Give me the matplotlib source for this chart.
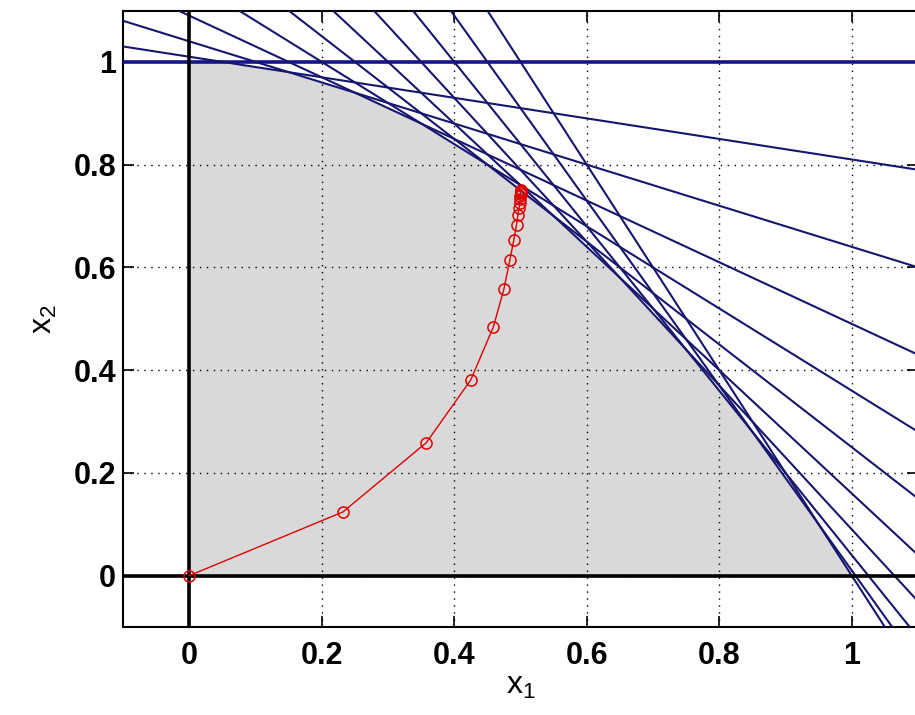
import matplotlib
matplotlib.use("Agg")
import matplotlib.pyplot as plt
from matplotlib import font_manager

# feasible region boundary (upper edge)
region_x = [0.0, 0.05, 0.1, 0.15, 0.2, 0.25, 0.3, 0.35, 0.4, 0.45, 0.5,
            0.55, 0.6, 0.65, 0.7, 0.75, 0.8, 0.85, 0.9, 0.95, 1.0]
region_y = [1.0, 0.998, 0.99, 0.978, 0.96, 0.938, 0.91, 0.878, 0.84, 0.798, 0.75,
            0.698, 0.64, 0.578, 0.51, 0.438, 0.36, 0.278, 0.19, 0.098, 0.0]

# supporting lines x2 = intercept + slope * x1
cut_slopes = [0.0, -0.2, -0.4, -0.6, -0.8, -1.0, -1.2, -1.4, -1.6, -1.8, -2.0]
cut_intercepts = [1.0, 1.01, 1.04, 1.09, 1.16, 1.25, 1.36, 1.49, 1.64, 1.81, 2.0]

# iterates
path_x1 = [0.0, 0.232, 0.358, 0.425, 0.459, 0.475, 0.484, 0.490, 0.494, 0.496,
           0.498, 0.499, 0.4995, 0.4998, 0.5, 0.5, 0.5, 0.5, 0.5]
path_x2 = [0.0, 0.124, 0.259, 0.381, 0.484, 0.558, 0.615, 0.654, 0.683, 0.702,
           0.715, 0.725, 0.733, 0.739, 0.743, 0.746, 0.748, 0.749, 0.75]

ticks = [0, 0.2, 0.4, 0.6, 0.8, 1]
tick_labels = ["0", "0.2", "0.4", "0.6", "0.8", "1"]

names = {f.name for f in font_manager.fontManager.ttflist}
fam = "Liberation Sans Narrow" if "Liberation Sans Narrow" in names else "Liberation Sans"
plt.rcParams["font.family"] = [fam, "DejaVu Sans"]
plt.rcParams["mathtext.fontset"] = "custom"
plt.rcParams["mathtext.rm"] = fam
plt.rcParams["mathtext.default"] = "rm"

fig = plt.figure(figsize=(9.15, 7.15), dpi=100)
ax = fig.add_axes([123 / 915, 1 - 627 / 715, 795 / 915, 616.5 / 715])

ax.fill_between(region_x, 0, region_y, color="#d9d9d9", lw=0, zorder=1)

for i, (m, b) in enumerate(zip(cut_slopes, cut_intercepts)):
    if i == 0:
        ax.axline((0, b), slope=m, color="#14148c", lw=2.6, zorder=3)
    else:
        ax.axline((0, b), slope=m, color="#16166e", lw=1.5, zorder=3)

ax.axhline(0, color="k", lw=2.6, zorder=4)
ax.axvline(0, color="k", lw=2.6, zorder=4)

ax.plot(path_x1, path_x2, color="#e00000", lw=1.0, marker="o", ms=8,
        mfc="none", mec="#e00000", mew=1.1, zorder=5)

ax.set_xlim(-0.1, 1.1)
ax.set_ylim(-0.1, 1.1)
ax.set_xticks(ticks)
ax.set_xticklabels(tick_labels)
ax.set_yticks(ticks)
ax.set_yticklabels(tick_labels)
ax.grid(True, color="k", lw=1.0, linestyle=(0, (1, 4)), zorder=2)
ax.set_axisbelow(False)
ax.tick_params(direction="in", length=8, width=1.2, top=True, right=True,
               labelsize=22)
ax.tick_params(axis="x", pad=10)
ax.tick_params(axis="y", pad=5)
for lab in ax.get_xticklabels() + ax.get_yticklabels():
    lab.set_fontweight("bold")
for sp in ax.spines.values():
    sp.set_linewidth(1.5)

ax.set_xlabel("x$_1$", fontsize=23, labelpad=0)
ax.set_ylabel("x$_2$", fontsize=23, labelpad=10)

fig.savefig("out.png", dpi=100)
